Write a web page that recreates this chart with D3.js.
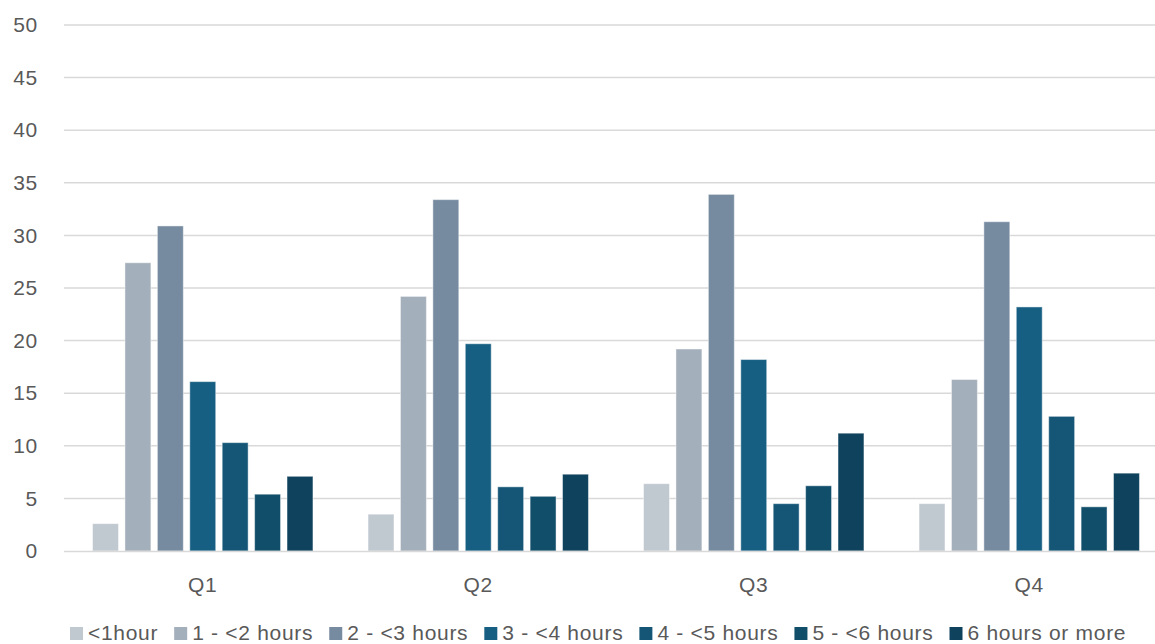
<!DOCTYPE html>
<html>
<head>
<meta charset="utf-8">
<script src="https://cdn.jsdelivr.net/npm/d3@7"></script>
<style>
  html, body { margin: 0; padding: 0; background: #fff; }
  svg { display: block; }
  text { font-family: "Liberation Sans", Arial, sans-serif; fill: #595959; letter-spacing: 0.7px; }
</style>
</head>
<body>
<svg id="chart" width="1155" height="644"></svg>
<script>
// Quarterly distribution of time spent, by duration bucket
const quarters = ["Q1", "Q2", "Q3", "Q4"];
const seriesNames = ["<1hour", "1 - <2 hours", "2 - <3 hours", "3 - <4 hours",
                     "4 - <5 hours", "5 - <6 hours", "6 hours or more"];
const lessThan1 = [2.6, 3.5, 6.4, 4.5];
const oneToTwo = [27.4, 24.2, 19.2, 16.3];
const twoToThree = [30.9, 33.4, 33.9, 31.3];
const threeToFour = [16.1, 19.7, 18.2, 23.2];
const fourToFive = [10.3, 6.1, 4.5, 12.8];
const fiveToSix = [5.4, 5.2, 6.2, 4.2];
const sixPlus = [7.1, 7.3, 11.2, 7.4];
const yTicks = [0, 5, 10, 15, 20, 25, 30, 35, 40, 45, 50];
const colors = ["#c0c8d0", "#a3afba", "#768ba0", "#175f82", "#155677", "#114e6a", "#0e425d"];

const seriesValues = [lessThan1, oneToTwo, twoToThree, threeToFour, fourToFive, fiveToSix, sixPlus];

const FONT = "Liberation Sans, Arial, sans-serif";
const FS = 21;
const svg = d3.select("#chart");
const margin = { left: 65, right: -12, top: 25, bottom: 93 };
const W = 1155, H = 644;
const plotBottom = H - margin.bottom;

const x = d3.scaleBand().domain(quarters)
  .range([margin.left, W - margin.right])
  .paddingInner(0.2).paddingOuter(0.1);
const xInner = d3.scaleBand().domain(d3.range(seriesNames.length))
  .range([0, x.bandwidth()])
  .paddingInner(0.2).paddingOuter(0);
const y = d3.scaleLinear().domain([0, 50]).range([plotBottom, margin.top]);

// horizontal gridlines
svg.append("g").selectAll("line").data(yTicks.filter(d => d > 0)).join("line")
  .attr("x1", 64).attr("x2", W)
  .attr("y1", d => y(d)).attr("y2", d => y(d))
  .attr("stroke", "#d9d9d9").attr("stroke-width", 1.5);

// y-axis labels
const yAxis = d3.axisLeft(y).tickValues(yTicks).tickSize(0).tickPadding(0);
const yg = svg.append("g").attr("transform", "translate(38,0)").call(yAxis);
yg.select(".domain").remove();
yg.selectAll("text").attr("font-size", FS).style("fill", "#595959")
  .style("font-family", FONT);

// bars
const groups = svg.append("g").selectAll("g").data(seriesValues).join("g")
  .attr("fill", (d, i) => colors[i]);
groups.each(function(vals, si) {
  d3.select(this).selectAll("rect").data(vals).join("rect")
    .attr("x", (v, qi) => x(quarters[qi]) + xInner(si))
    .attr("width", xInner.bandwidth())
    .attr("y", v => y(v))
    .attr("height", v => plotBottom - y(v))
    .attr("stroke", "#ffffff").attr("stroke-opacity", 0.45).attr("stroke-width", 1);
});

// baseline
svg.append("line").attr("x1", 64).attr("x2", W)
  .attr("y1", plotBottom + 0.5).attr("y2", plotBottom + 0.5)
  .attr("stroke", "#d9d9d9").attr("stroke-width", 1.5);

// x-axis labels
const xAxis = d3.axisBottom(x).tickSize(0).tickPadding(0);
const xg = svg.append("g").attr("transform", `translate(0,${plotBottom + 34})`).call(xAxis);
xg.select(".domain").remove();
xg.selectAll("text").attr("font-size", FS).attr("dy", "0.35em").style("fill", "#595959")
  .style("font-family", FONT);

// legend
const legend = svg.append("g").attr("transform", "translate(70,633)");
let cx = 0;
seriesNames.forEach((name, i) => {
  const item = legend.append("g").attr("transform", `translate(${cx},0)`);
  item.append("rect").attr("x", 0).attr("y", -6).attr("width", 13).attr("height", 13)
    .attr("fill", colors[i]);
  const t = item.append("text").attr("x", 18).attr("y", 0).attr("dy", "0.35em")
    .attr("font-size", FS).text(name);
  cx += 18 + t.node().getComputedTextLength() + 16;
});
</script>
</body>
</html>
